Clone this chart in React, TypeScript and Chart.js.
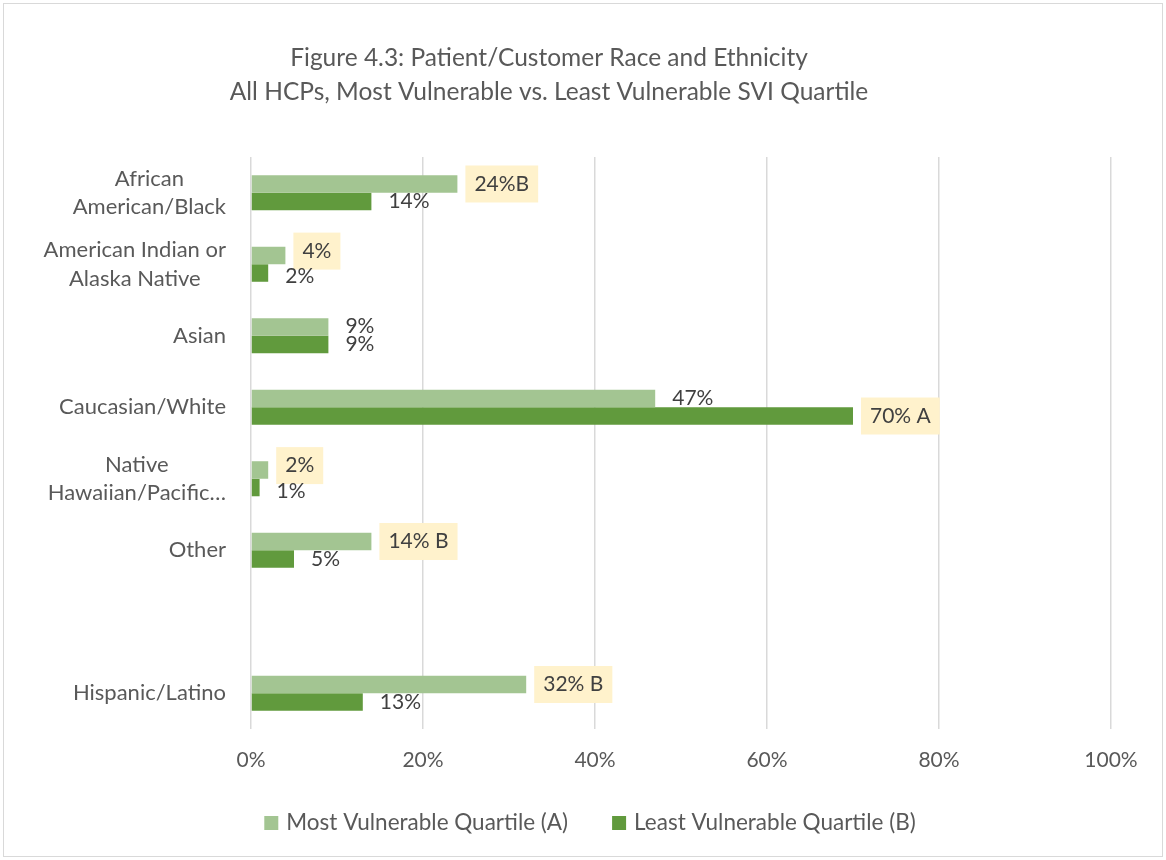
import React, { useEffect, useRef } from 'react';
import { Chart, registerables } from 'chart.js';

Chart.register(...registerables);

const categories: string[][] = [
  ['African', 'American/Black'],
  ['American Indian or', 'Alaska Native'],
  ['Asian'],
  ['Caucasian/White'],
  ['Native', 'Hawaiian/Pacific…'],
  ['Other'],
  [''],
  ['Hispanic/Latino'],
];

const mostVulnerable: (number | null)[] = [24, 4, 9, 47, 2, 14, null, 32];
const leastVulnerable: (number | null)[] = [14, 2, 9, 70, 1, 5, null, 13];

const mostLabels: string[] = ['24%B', '4%', '9%', '47%', '2%', '14% B', '', '32% B'];
const leastLabels: string[] = ['14%', '2%', '9%', '70% A', '1%', '5%', '', '13%'];
const mostHighlight: boolean[] = [true, true, false, false, true, true, false, true];
const leastHighlight: boolean[] = [false, false, false, true, false, false, false, false];

const xTicks: number[] = [0, 20, 40, 60, 80, 100];

const titleLines: string[] = [
  'Figure 4.3: Patient/Customer Race and Ethnicity',
  'All HCPs, Most Vulnerable vs. Least Vulnerable SVI Quartile',
];
const seriesNames: string[] = ['Most Vulnerable Quartile (A)', 'Least Vulnerable Quartile (B)'];

const LIGHT = '#a3c592';
const DARK = '#619a3d';
const TEXT = '#595959';
const LABEL_TEXT = '#404040';
const HIGHLIGHT = '#fff2cc';
const GRID = '#d9d9d9';
const FONT = 'Lato, "Open Sans", sans-serif';

const customPlugin = {
  id: 'customDraw',
  afterDraw(chart: any) {
    const ctx: CanvasRenderingContext2D = chart.ctx;
    const yScale = chart.scales.y;
    ctx.save();

    // border
    ctx.strokeStyle = '#d9d9d9';
    ctx.lineWidth = 1;
    ctx.strokeRect(3.5, 3.5, 1159, 853);

    // title
    ctx.fillStyle = TEXT;
    ctx.font = `24.5px ${FONT}`;
    ctx.textAlign = 'center';
    ctx.textBaseline = 'middle';
    ctx.fillText(titleLines[0], 549, 58);
    ctx.fillText(titleLines[1], 549, 92);

    // y labels
    ctx.font = `22px ${FONT}`;
    ctx.fillStyle = TEXT;
    const rightEdge = 226;
    const lineH = 28.5;
    categories.forEach((lines, i) => {
      const cy = yScale.getPixelForValue(i);
      const w = Math.max(...lines.map((l) => ctx.measureText(l).width));
      const cx = rightEdge - w / 2;
      const startY = cy - ((lines.length - 1) * lineH) / 2;
      lines.forEach((l, j) => {
        ctx.textAlign = 'center';
        ctx.fillText(l, cx, startY + j * lineH);
      });
    });

    // data labels with simple collision avoidance
    ctx.font = `21px ${FONT}`;
    const metaA = chart.getDatasetMeta(0);
    const metaB = chart.getDatasetMeta(1);
    const boxH = 37;
    const textH = 22;
    categories.forEach((_, i) => {
      const elA = metaA.data[i];
      const elB = metaB.data[i];
      if (!elA || !elB || !mostLabels[i]) return;
      const xa = elA.x + 17;
      const xb = elB.x + 17;
      const wa = ctx.measureText(mostLabels[i]).width;
      const wb = ctx.measureText(leastLabels[i]).width;
      let ya = elA.y;
      let yb = elB.y;
      const ha = mostHighlight[i] ? boxH : textH;
      const hb = leastHighlight[i] ? boxH : textH;
      const padA = mostHighlight[i] ? 9 : 0;
      const padB = leastHighlight[i] ? 9 : 0;
      const xOverlap = xa - padA < xb + wb + padB && xb - padB < xa + wa + padA;
      const needed = (ha + hb) / 2 - 4;
      const gap = yb - ya;
      if (xOverlap && gap < needed) {
        const d = needed - gap;
        ya -= d * 0.55;
        yb += d * 0.45;
      }
      const draw = (txt: string, x: number, y: number, w: number, hl: boolean) => {
        if (hl) {
          ctx.fillStyle = HIGHLIGHT;
          ctx.fillRect(x - 9, y - boxH / 2, w + 18, boxH);
        }
        ctx.fillStyle = LABEL_TEXT;
        ctx.textAlign = 'left';
        ctx.textBaseline = 'middle';
        ctx.fillText(txt, x, y);
      };
      draw(mostLabels[i], xa, ya, wa, mostHighlight[i]);
      draw(leastLabels[i], xb, yb, wb, leastHighlight[i]);
    });

    // legend
    ctx.font = `22.5px ${FONT}`;
    const box = 14;
    const gapL = 8;
    const spacing = 44;
    const w1 = ctx.measureText(seriesNames[0]).width;
    const w2 = ctx.measureText(seriesNames[1]).width;
    const total = box + gapL + w1 + spacing + box + gapL + w2;
    let lx = 590 - total / 2;
    const ly = 823;
    ctx.textAlign = 'left';
    ctx.textBaseline = 'middle';
    ctx.fillStyle = LIGHT;
    ctx.fillRect(lx, ly - box / 2, box, box);
    ctx.fillStyle = TEXT;
    ctx.fillText(seriesNames[0], lx + box + gapL, ly);
    lx += box + gapL + w1 + spacing;
    ctx.fillStyle = DARK;
    ctx.fillRect(lx, ly - box / 2, box, box);
    ctx.fillStyle = TEXT;
    ctx.fillText(seriesNames[1], lx + box + gapL, ly);

    ctx.restore();
  },
};

export default function App() {
  const ref = useRef<HTMLCanvasElement>(null);
  useEffect(() => {
    document.body.style.margin = '0';
    const chart = new Chart(ref.current as HTMLCanvasElement, {
      type: 'bar',
      data: {
        labels: categories.map((c) => c.join(' ')),
        datasets: [
          {
            label: seriesNames[0],
            data: mostVulnerable,
            backgroundColor: LIGHT,
            borderWidth: 0,
            categoryPercentage: 0.49,
            barPercentage: 1,
          },
          {
            label: seriesNames[1],
            data: leastVulnerable,
            backgroundColor: DARK,
            borderWidth: 0,
            categoryPercentage: 0.49,
            barPercentage: 1,
          },
        ],
      },
      options: {
        indexAxis: 'y',
        responsive: false,
        animation: false,
        layout: { padding: { left: 251, top: 157, right: 55, bottom: 0 } },
        scales: {
          x: {
            min: 0,
            max: 100,
            afterBuildTicks: (s: any) => {
              s.ticks = xTicks.map((v) => ({ value: v }));
            },
            ticks: {
              callback: (v: any) => v + '%',
              font: { family: FONT, size: 21 },
              color: TEXT,
              padding: 19,
            },
            grid: { color: GRID, lineWidth: 1.5, drawTicks: false },
            border: { display: false },
            afterFit: (s: any) => {
              s.height = 131;
            },
          },
          y: {
            ticks: { display: false },
            grid: { display: false },
            border: { display: false },
            afterFit: (s: any) => {
              s.width = 0;
            },
          },
        },
        plugins: {
          legend: { display: false },
          title: { display: false },
          tooltip: { enabled: false },
        },
      },
      plugins: [customPlugin],
    });
    return () => chart.destroy();
  }, []);
  return <canvas ref={ref} width={1166} height={860} style={{ display: 'block' }} />;
}
